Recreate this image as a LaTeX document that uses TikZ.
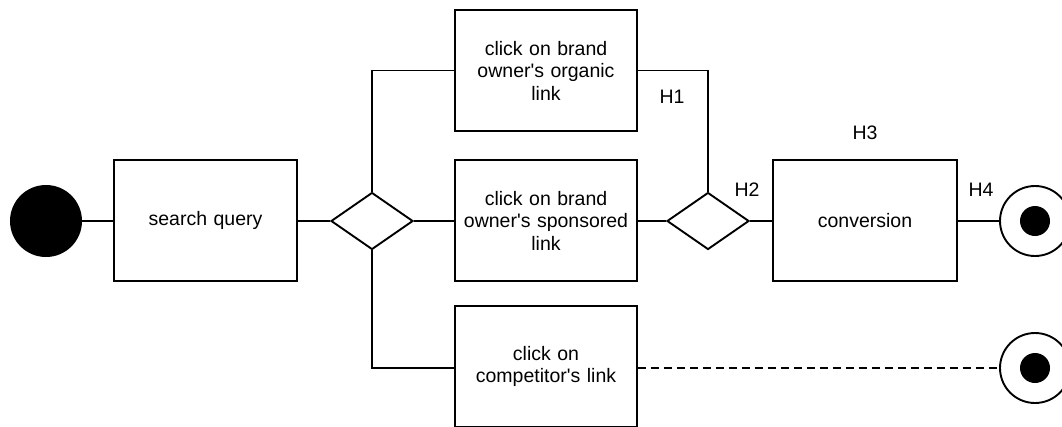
\documentclass[tikz,border=0pt]{standalone}
\usepackage{fontspec}
\setmainfont{Liberation Sans}
\usetikzlibrary{shapes.geometric}
\newcommand{\apos}{\textquotesingle}
\tikzset{
  every node/.style={font=\fontsize{19.5}{22.5}\selectfont},
  actbox/.style={draw, line width=1.9pt, rectangle, minimum width=183pt, minimum height=121pt, inner sep=0pt, text width=176pt, align=center},
  choice/.style={draw, line width=1.9pt, diamond, minimum width=82pt, minimum height=57pt, inner sep=0pt},
  flow/.style={line width=1.9pt},
  startdot/.style={circle, fill=black, minimum size=72pt, inner sep=0pt},
  endring/.style={circle, draw, line width=1.9pt, minimum size=70pt, inner sep=0pt},
  enddot/.style={circle, fill=black, minimum size=30pt, inner sep=0pt},
  hlabel/.style={inner sep=0pt}
}
\begin{document}
\begin{tikzpicture}[x=1pt, y=-1pt]
  \clip (0,0) rectangle (1062,426);
  \fill[white] (0,0) rectangle (1062,426);

  % activities
  \node[startdot] (start) at (46,221) {};
  \node[actbox] (query) at (205.5,220.5) {search query};
  \node[choice] (split) at (372,221) {};
  \node[actbox, minimum width=182pt] (organic) at (546,70.5) {click on brand\\owner\apos s organic\\link};
  \node[actbox, minimum width=182pt] (sponsored) at (546,220.5) {click on brand\\owner\apos s sponsored\\link};
  \node[actbox, minimum width=182pt] (competitor) at (546,366.5) {click on\\competitor\apos s link};
  \node[choice] (merge) at (708,221) {};
  \node[actbox, minimum width=184pt] (conversion) at (865,220.5) {conversion};

  % final states
  \node[endring] (final1) at (1035,221) {};
  \node[enddot] (final1dot) at (final1.center) {};
  \node[endring] (final2) at (1035,368) {};
  \node[enddot] (final2dot) at (final2.center) {};

  % hypothesis labels
  \node[hlabel] (h1) at (672,97) {H1};
  \node[hlabel] (h2) at (747,190) {H2};
  \node[hlabel] (h3) at (865,133) {H3};
  \node[hlabel] (h4) at (981,190) {H4};

  % connectors
  \draw[flow] (start.east) -- (query.west |- start.east);
  \draw[flow] (query.east |- split.west) -- (split.west);
  \draw[flow] (split.north) |- (organic.west);
  \draw[flow] (split.east) -- (sponsored.west |- split.east);
  \draw[flow] (split.south) |- (competitor.west |- final2.west);
  \draw[flow] (organic.east) -| (merge.north);
  \draw[flow] (sponsored.east |- merge.west) -- (merge.west);
  \draw[flow] (merge.east) -- (conversion.west |- merge.east);
  \draw[flow] (conversion.east |- final1.west) -- (final1.west);
  \draw[flow, dash pattern=on 8pt off 5pt] (competitor.east |- final2.west) -- (final2.west);
\end{tikzpicture}
\end{document}
